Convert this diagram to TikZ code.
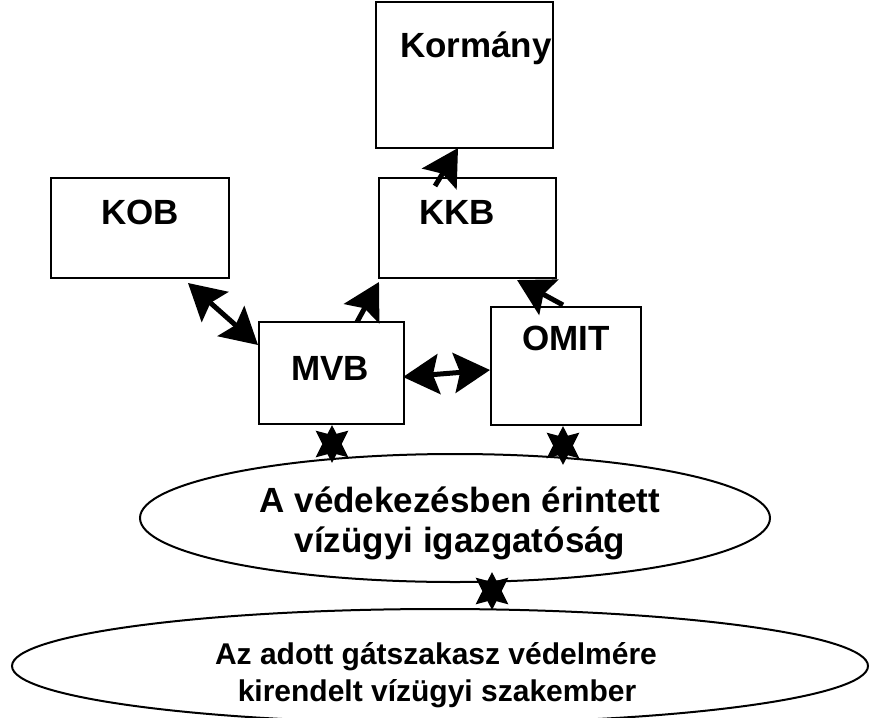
\documentclass[tikz,border=0pt]{standalone}
\usepackage{fontspec}
\setmainfont{Liberation Sans}
\usetikzlibrary{arrows.meta}
\begin{document}
\begin{tikzpicture}[x=1pt,y=-1pt,
  box/.style={draw,line width=2pt,inner sep=0pt},
  lbl/.style={font=\fontsize{35}{42}\selectfont\bfseries,anchor=base,inner sep=0pt,align=center},
  slbl/.style={font=\fontsize{30}{36}\selectfont\bfseries,anchor=base,inner sep=0pt,align=center},
  ell/.style={draw,line width=2pt},
  hd/.tip={Stealth[length=36pt,width=40pt,inset=6pt]},
  shd/.tip={Stealth[length=32pt,width=32pt,inset=4pt]},
  arr/.style={line width=5pt,-hd},
  darr/.style={line width=5pt,hd-hd},
  sarr/.style={line width=4pt,shd-shd}]
\useasboundingbox (0,0) rectangle (877,717);
\begin{scope}
\clip (0,0) rectangle (877,717);
% boxes
\draw[box] (376,2) rectangle (553,148);
\draw[box] (51,178) rectangle (229,278);
\draw[box] (379,178) rectangle (556,278);
\draw[box] (259,322) rectangle (404,424);
\draw[box] (491,307) rectangle (641,425);
% ellipses
\draw[ell] (455,518) ellipse [x radius=315, y radius=64];
\draw[ell] (440,666) ellipse [x radius=428, y radius=57];
\end{scope}
% labels
\node[lbl] (korm) at (476,57) {Kormány};
\node[lbl] (kob) at (140,224) {KOB};
\node[lbl] (kkb) at (457,224) {KKB};
\node[lbl] (mvb) at (330,380) {MVB};
\node[lbl] (omit) at (566,350) {OMIT};
\node[lbl] (vig1) at (460,512) {A védekezésben érintett};
\node[lbl] (vig2) at (460,552) {vízügyi igazgatóság};
\node[slbl] (szak1) at (436,664) {Az adott gátszakasz védelmére};
\node[slbl] (szak2) at (437,701) {kirendelt vízügyi szakember};
% connector endpoints
\coordinate (kkbTop) at (458,148);
\coordinate (kkbFrom) at (435,186);
\coordinate (mvbTail) at (357,322);
\coordinate (kkbBL) at (379,282);
\coordinate (omitTail) at (563,305);
\coordinate (kkbBR) at (517,280);
\coordinate (kobC) at (188,283);
\coordinate (mvbL) at (258,345);
\coordinate (mvbR) at (403,377);
\coordinate (omitL) at (490,370);
\coordinate (mvbB) at (332,425);
\coordinate (e1a) at (332,463);
\coordinate (omitB) at (563,426);
\coordinate (e1b) at (563,465);
\coordinate (e1B) at (492,572);
\coordinate (e2T) at (492,610);
% connectors
\draw[arr] (kkbFrom) -- (kkbTop);
\draw[arr] (mvbTail) -- (kkbBL);
\draw[arr] (omitTail) -- (kkbBR);
\draw[darr] (kobC) -- (mvbL);
\draw[darr] (mvbR) -- (omitL);
\draw[sarr] (mvbB) -- (e1a);
\draw[sarr] (omitB) -- (e1b);
\draw[sarr] (e1B) -- (e2T);
\end{tikzpicture}
\end{document}
